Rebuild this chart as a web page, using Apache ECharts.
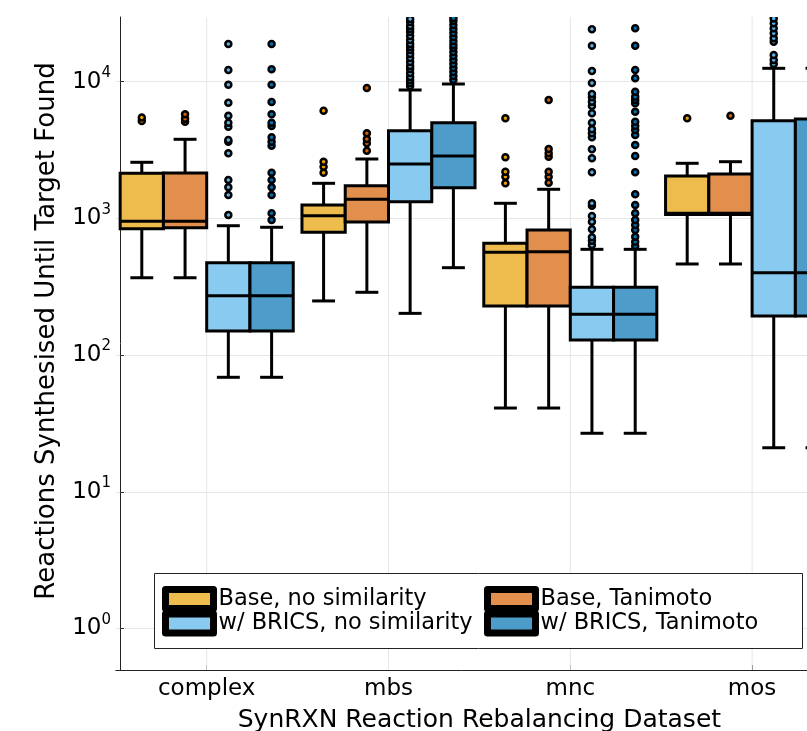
<!DOCTYPE html>
<html><head><meta charset="utf-8">
<script src="https://cdn.jsdelivr.net/npm/echarts@6/dist/echarts.min.js"></script>
<style>html,body{margin:0;padding:0;background:#fff}#c{width:807px;height:731px}</style>
</head><body><div id="c"></div>
<script>
const categories = ['complex', 'mbs', 'mnc', 'mos'];
const seriesNames = ['Base, no similarity', 'Base, Tanimoto', 'w/ BRICS, no similarity', 'w/ BRICS, Tanimoto'];
const yTickExponents = [0, 1, 2, 3, 4];
const xTitle = 'SynRXN Reaction Rebalancing Dataset';
const yTitle = 'Reactions Synthesised Until Target Found';

// [lower whisker, Q1, median, Q3, upper whisker] for each category
const baseNoSimStats  = [[368, 841, 952, 2138, 2573], [249, 791, 1046, 1253, 1806], [41, 229, 565, 657, 1290], [464, 1068, 1090, 2043, 2530]];
const baseTaniStats   = [[368, 855, 952, 2150, 3790], [288, 941, 1379, 1735, 2720], [41, 229, 571, 822, 1633], [464, 1068, 1090, 2113, 2599]];
const bricsNoSimStats = [[68.8, 150, 272, 474, 884], [202, 1325, 2500, 4381, 8697], [26.8, 129, 199, 313, 594], [21, 193, 401, 5185, 12530]];
const bricsTaniStats  = [[68.8, 150, 272, 474, 861], [436, 1677, 2861, 5012, 9620], [26.8, 129, 199, 313, 594], [21, 193, 401, 5335, 12530]];

// outliers for each category
const baseNoSimOut = [
  [5158, 5470],
  [2160, 2389, 2599, 6134],
  [1806, 2018, 2196, 2799, 5398],
  [5398]
];
const baseTaniOut = [
  [5100, 5350, 5775],
  [3129, 3543, 3809, 4193, 8995],
  [1825, 2018, 2196, 2828, 2995, 3219, 7346],
  [5640]
];
const bricsNoSimOut = [
  [1059, 1483, 1689, 1909, 2995, 3640, 3745, 4688, 5012, 5640, 7021, 9507, 12180, 18870],
  [9303, 9784, 10290, 10820, 11580, 12390, 13030, 13940, 14910, 15950, 17060, 17940, 18870, 20190, 21600, 23100, 24290, 25550, 27330, 28750],
  [639, 687, 727, 832, 946, 1041, 1238, 1290, 2174, 2752, 3203, 3920, 4193, 4485, 5012, 5872, 6640, 7140, 7689, 8128, 9784, 11980, 18340, 24170],
  [13480, 14410, 15680, 19620, 20780, 22600, 24580, 26740, 29000]
];
const bricsTaniOut = [
  [973, 1090, 1483, 1689, 1909, 2160, 3402, 3640, 3920, 4742, 5012, 5775, 7105, 9507, 12320, 18870],
  [10290, 11010, 11780, 12600, 13480, 14410, 15420, 16500, 17640, 18560, 19850, 21230, 22710, 24290, 25980, 27800, 29240],
  [628, 675, 735, 822, 895, 973, 1090, 1253, 1501, 2174, 2861, 3443, 4076, 4433, 4742, 5098, 6032, 6950, 7346, 7768, 8451, 10590, 12180, 18340, 24580],
  [13480, 14410, 15680, 19620, 20780, 22600, 24580, 26740, 29000]
];

const allStats = [baseNoSimStats, baseTaniStats, bricsNoSimStats, bricsTaniStats];
const allOut = [baseNoSimOut, baseTaniOut, bricsNoSimOut, bricsTaniOut];
const fillColors = ['#EEBC4D', '#E28E4D', '#89CBF0', '#4D9CC9'];
const dotColors = ['#E69F00', '#D55E00', '#56B4E9', '#0072B2'];

const FONT = 'DejaVu Sans';
const BOX_FRAC = 0.238;   // box width as a fraction of the category band
const CAP_FRAC = 0.53;    // whisker cap width relative to box width
const LW = 3;

function boxRenderer(k) {
  return function (params, api) {
    const cat = api.value(0);
    const band = api.size([1, 0])[0];
    const w = band * BOX_FRAC;
    const base = api.coord([cat, api.value(3)]);
    const cx = base[0] + (k - 1.5) * w;
    const yLo = api.coord([cat, api.value(1)])[1];
    const yQ1 = api.coord([cat, api.value(2)])[1];
    const yMed = base[1];
    const yQ3 = api.coord([cat, api.value(4)])[1];
    const yHi = api.coord([cat, api.value(5)])[1];
    const cw = w * CAP_FRAC;
    const ls = { stroke: '#000', lineWidth: LW };
    return {
      type: 'group',
      children: [
        { type: 'line', shape: { x1: cx, y1: yLo, x2: cx, y2: yQ1 }, style: ls },
        { type: 'line', shape: { x1: cx, y1: yQ3, x2: cx, y2: yHi }, style: ls },
        { type: 'line', shape: { x1: cx - cw / 2, y1: yLo, x2: cx + cw / 2, y2: yLo }, style: ls },
        { type: 'line', shape: { x1: cx - cw / 2, y1: yHi, x2: cx + cw / 2, y2: yHi }, style: ls },
        { type: 'rect', shape: { x: cx - w / 2, y: yQ3, width: w, height: yQ1 - yQ3 },
          style: { fill: fillColors[k], stroke: '#000', lineWidth: LW } },
        { type: 'line', shape: { x1: cx - w / 2, y1: yMed, x2: cx + w / 2, y2: yMed }, style: ls }
      ]
    };
  };
}

function outlierRenderer(k) {
  return function (params, api) {
    const cat = api.value(0);
    const band = api.size([1, 0])[0];
    const w = band * BOX_FRAC;
    const p = api.coord([cat, api.value(1)]);
    return {
      type: 'circle',
      shape: { cx: p[0] + (k - 1.5) * w, cy: p[1], r: 3 },
      style: { fill: dotColors[k], stroke: '#000', lineWidth: 2.5 }
    };
  };
}

const series = [];
// vertical grid lines at category centres
series.push({
  type: 'custom', name: 'vgrid', silent: true, z: 1, clip: true,
  data: categories.map((c, i) => [i, 1]),
  renderItem: function (params, api) {
    const x = api.coord([api.value(0), 1])[0];
    const cs = params.coordSys;
    return { type: 'line', shape: { x1: x, y1: cs.y, x2: x, y2: cs.y + cs.height },
      style: { stroke: '#e6e6e6', lineWidth: 1 } };
  }
});
allStats.forEach((st, k) => {
  series.push({
    type: 'custom', name: seriesNames[k], z: 3, clip: true,
    itemStyle: { color: fillColors[k] },
    data: st.map((s, i) => [i].concat(s)),
    renderItem: boxRenderer(k)
  });
});
allOut.forEach((ol, k) => {
  const d = [];
  ol.forEach((arr, i) => arr.forEach(v => d.push([i, v])));
  series.push({
    type: 'custom', name: seriesNames[k], z: 4, clip: true,
    itemStyle: { color: fillColors[k] },
    data: d,
    renderItem: outlierRenderer(k)
  });
});

const legendPos = [[162, 586], [484, 586], [162, 610.5], [484, 610.5]];
const legends = seriesNames.map((n, i) => ({
  data: [{ name: n, icon: 'rect', itemStyle: { color: fillColors[i], borderColor: '#000', borderWidth: 7, borderJoin: 'round' } }],
  left: legendPos[i][0], top: legendPos[i][1],
  padding: 0, itemWidth: 48, itemHeight: 19, itemGap: 0, z: 10,
  selectedMode: false,
  textStyle: { fontFamily: FONT, fontSize: 22.5, color: '#000', lineHeight: 19, padding: [0, 0, 0, 0] }
}));

const chart = echarts.init(document.getElementById('c'), null, { renderer: 'canvas' });
chart.setOption({
  animation: false,
  backgroundColor: '#fff',
  grid: { left: 115.8, top: 17, width: 727.2, height: 653, containLabel: false, outerBoundsMode: 'none' },
  xAxis: {
    type: 'category', data: categories, boundaryGap: true,
    axisLine: { onZero: false, lineStyle: { color: '#222', width: 1 } },
    axisTick: { show: true, alignWithLabel: true, inside: true, length: 5, lineStyle: { color: '#333' } },
    axisLabel: { fontFamily: FONT, fontSize: 23, color: '#000', margin: 8 },
    splitLine: { show: false },
    name: xTitle, nameLocation: 'middle', nameGap: 38,
    nameTextStyle: { fontFamily: FONT, fontSize: 25, color: '#000' }
  },
  yAxis: {
    type: 'log', logBase: 10, min: 0.497, max: 29740, offset: -4.2,
    axisLine: { show: true, onZero: false, lineStyle: { color: '#222', width: 1 } },
    axisTick: { show: true, inside: true, length: 4, lineStyle: { color: '#333' } },
    splitLine: { show: true, showMinLine: false, showMaxLine: false, lineStyle: { color: '#e6e6e6', width: 1 } },
    axisLabel: {
      margin: 9, showMinLabel: false, showMaxLabel: false,
      formatter: function (v) {
        const l = Math.log10(v);
        const e = Math.round(l);
        if (Math.abs(l - e) > 1e-6 || yTickExponents.indexOf(e) < 0) return '';
        return '{b|10}{s|' + e + '}';
      },
      rich: {
        b: { fontFamily: FONT, fontSize: 23, color: '#000' },
        s: { fontFamily: FONT, fontSize: 15, color: '#000', padding: [0, 0, 17, 0] }
      }
    }
  },
  legend: legends,
  graphic: [{
    type: 'rect', z: 5, silent: true,
    shape: { x: 154.5, y: 573.5, width: 648, height: 75 },
    style: { fill: '#fff', stroke: '#222', lineWidth: 1 }
  }, {
    type: 'text', z: 5, silent: true,
    x: 47, y: 331, rotation: Math.PI / 2,
    style: { text: yTitle, fontFamily: FONT, fontSize: 26, fill: '#000', align: 'center', verticalAlign: 'middle' }
  }],
  series: series
});
</script>
</body></html>
